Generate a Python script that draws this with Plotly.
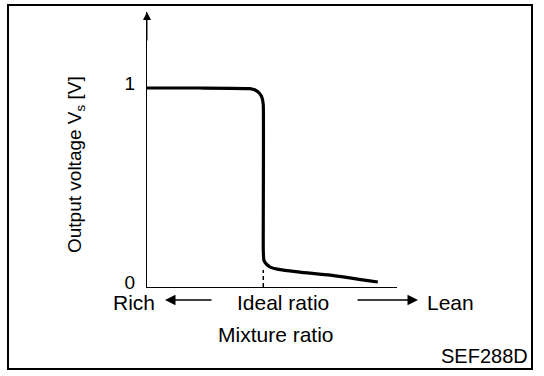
import plotly.graph_objects as go

# ---- data ----
mixture_ratio = [0.800, 0.891, 0.977, 0.986, 0.993, 0.998, 1.000, 1.000, 1.001,
                 1.005, 1.012, 1.024, 1.063, 1.115, 1.197]
output_voltage = [1.000, 1.000, 0.997, 0.990, 0.975, 0.950, 0.915, 0.186, 0.136,
                  0.116, 0.100, 0.090, 0.075, 0.060, 0.025]
ideal_ratio = [1.0, 1.0]
ideal_marker = [0.0, 0.085]
y_tick_vals = [0, 1]
y_tick_text = ["0", "1"]

W, H = 544, 376
L, R, T, B = 147, 147, 12, 89
PW, PH = W - L - R, H - T - B


def px(x):
    return (x - L) / PW


def py(y):
    return (H - B - y) / PH


FONT = "Liberation Sans, Arial, sans-serif"

fig = go.Figure()
fig.add_trace(go.Scatter(x=mixture_ratio, y=output_voltage, mode="lines",
                         line=dict(color="black", width=3.2, shape="spline", smoothing=0.4),
                         hoverinfo="skip", showlegend=False))
fig.add_trace(go.Scatter(x=ideal_ratio, y=ideal_marker, mode="lines",
                         line=dict(color="black", width=1.5, dash="4px,3px"),
                         hoverinfo="skip", showlegend=False))

fig.update_layout(
    width=W, height=H, margin=dict(l=L, r=R, t=T, b=B),
    paper_bgcolor="white", plot_bgcolor="white", showlegend=False,
    font=dict(family=FONT, color="black", size=21),
    xaxis=dict(range=[0.8, 1.23], showgrid=False, zeroline=False, showline=True,
               linecolor="black", linewidth=1, showticklabels=False, ticks=""),
    yaxis=dict(range=[0, 1.382], showgrid=False, zeroline=False, showline=True,
               linecolor="black", linewidth=1, tickmode="array",
               tickvals=y_tick_vals, ticktext=y_tick_text, ticks="",
               ticklabelstandoff=7, ticklabelshift=-5,
               tickfont=dict(size=19, family=FONT)),
)


def label(text, x, y, **kw):
    fig.add_annotation(x=px(x), y=py(y), xref="paper", yref="paper", text=text,
                       showarrow=False, xanchor=kw.pop("xanchor", "center"),
                       yanchor="middle", **kw)


# arrowhead at top of y axis
fig.add_annotation(x=0, y=1.0, xref="paper", yref="paper", ax=0, ay=30,
                   showarrow=True, arrowhead=2, arrowsize=1.6, arrowwidth=1,
                   arrowcolor="black", text="")

# y axis title
label("Output voltage V<sub>s</sub> [V]", 76, 165, textangle=-90, font=dict(size=19))

# bottom labels
label("Rich", 134, 302)
label("Ideal ratio", 283, 302)
label("Lean", 450, 302)
fig.add_annotation(x=px(165), y=py(300), xref="paper", yref="paper", ax=48, ay=0,
                   text="", showarrow=True, arrowhead=2, arrowsize=1.4, arrowwidth=1.5,
                   arrowcolor="black")
fig.add_annotation(x=px(418), y=py(300), xref="paper", yref="paper", ax=-62, ay=0,
                   text="", showarrow=True, arrowhead=2, arrowsize=1.4, arrowwidth=1.5,
                   arrowcolor="black")
label("Mixture ratio", 276, 334)
label("SEF288D", 530, 356, xanchor="right", font=dict(size=20))

# outer frame
fig.add_shape(type="rect", xref="paper", yref="paper",
              x0=px(8), x1=px(532), y0=py(369), y1=py(5),
              line=dict(color="black", width=2), fillcolor="rgba(0,0,0,0)")

fig.write_html("out.html", config={"displayModeBar": False})

# remove the default page margin so the figure sits at the window origin
with open("out.html", "r", encoding="utf-8") as f:
    html = f.read()
html = html.replace("<head>", "<head><style>html,body{margin:0;padding:0;overflow:hidden;}</style>", 1)
with open("out.html", "w", encoding="utf-8") as f:
    f.write(html)
